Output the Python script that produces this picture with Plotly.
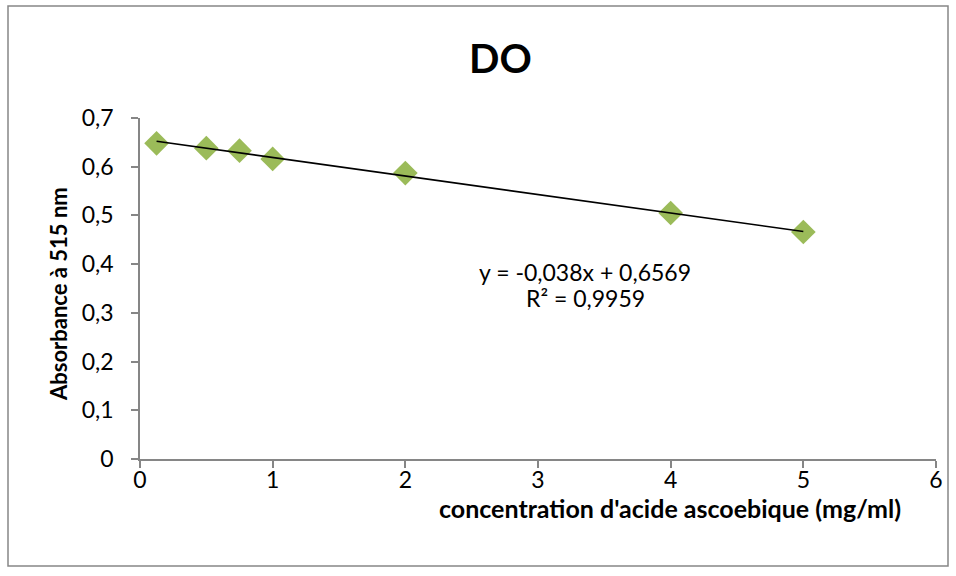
import plotly.graph_objects as go

# Ascorbic acid calibration: concentration (mg/ml) vs absorbance at 515 nm
concentration = [0.125, 0.5, 0.75, 1, 2, 4, 5]
absorbance = [0.648, 0.638, 0.633, 0.616, 0.587, 0.505, 0.466]

# Linear trendline as reported in the equation label
slope = -0.038
intercept = 0.6569
r_squared = 0.9959

y_tick_vals = [0, 0.1, 0.2, 0.3, 0.4, 0.5, 0.6, 0.7]
y_tick_text = ["0", "0,1", "0,2", "0,3", "0,4", "0,5", "0,6", "0,7"]
x_tick_vals = [0, 1, 2, 3, 4, 5, 6]
x_tick_text = ["0", "1", "2", "3", "4", "5", "6"]

FONT = "Lato"
AXIS_GRAY = "#868686"

x_fit = [min(concentration), max(concentration)]
y_fit = [slope * x + intercept for x in x_fit]

fig = go.Figure()
fig.add_trace(go.Scatter(
    x=concentration, y=absorbance, mode="markers",
    marker=dict(symbol="diamond", size=19, color="#9BBB59", line=dict(width=0)),
    showlegend=False, hoverinfo="x+y",
))
fig.add_trace(go.Scatter(
    x=x_fit, y=y_fit, mode="lines",
    line=dict(color="black", width=1.6),
    showlegend=False, hoverinfo="skip",
))


def px_x(px):
    # horizontal pixel -> paper fraction of the plot area
    return (px - 140) / 796


def px_y(px):
    # vertical pixel -> paper fraction of the plot area
    return (459 - px) / 341


fig.update_layout(
    width=956, height=576,
    margin=dict(l=140, r=20, t=118, b=117),
    paper_bgcolor="white", plot_bgcolor="white",
    font=dict(family=FONT, color="black"),
    xaxis=dict(
        range=[0, 6], tickvals=x_tick_vals, ticktext=x_tick_text,
        showgrid=False, zeroline=False, showline=True, linecolor=AXIS_GRAY, linewidth=1.5,
        ticks="outside", ticklen=7, tickcolor=AXIS_GRAY, tickwidth=1.5,
        tickfont=dict(size=23, family=FONT, color="black"), ticklabelstandoff=-7,
    ),
    yaxis=dict(
        range=[0, 0.7], tickvals=y_tick_vals, ticktext=y_tick_text,
        showgrid=False, zeroline=False, showline=True, linecolor=AXIS_GRAY, linewidth=1.5,
        ticks="outside", ticklen=7, tickcolor=AXIS_GRAY, tickwidth=1.5,
        tickfont=dict(size=23, family=FONT, color="black"), ticklabelstandoff=13,
    ),
    shapes=[dict(
        type="rect", xref="paper", yref="paper",
        x0=px_x(8), x1=px_x(948), y0=px_y(566), y1=px_y(6),
        line=dict(color=AXIS_GRAY, width=1.5), fillcolor="rgba(0,0,0,0)", layer="below",
    )],
    annotations=[
        dict(text="<b>DO</b>", xref="paper", yref="paper",
             x=px_x(500), y=px_y(58), showarrow=False,
             font=dict(size=40, family=FONT, color="black"),
             xanchor="center", yanchor="middle"),
        dict(text="<b>concentration d'acide ascoebique (mg/ml)</b>", xref="paper", yref="paper",
             x=px_x(670), y=px_y(508), showarrow=False,
             font=dict(size=25, family=FONT, color="black"),
             xanchor="center", yanchor="middle"),
        dict(text="<b>Absorbance à 515 nm</b>", xref="paper", yref="paper",
             x=px_x(58), y=px_y(294), showarrow=False, textangle=-90,
             font=dict(size=22, family=FONT, color="black"),
             xanchor="center", yanchor="middle"),
        dict(text=f"y = {slope:.3f}x + {intercept:.4f}".replace(".", ","),
             xref="paper", yref="paper",
             x=px_x(585), y=px_y(272), showarrow=False,
             font=dict(size=23, family=FONT, color="black"),
             xanchor="center", yanchor="middle"),
        dict(text=f"R² = {r_squared:.4f}".replace(".", ","),
             xref="paper", yref="paper",
             x=px_x(585), y=px_y(298), showarrow=False,
             font=dict(size=23, family=FONT, color="black"),
             xanchor="center", yanchor="middle"),
    ],
)

fig.write_html("out.html")
